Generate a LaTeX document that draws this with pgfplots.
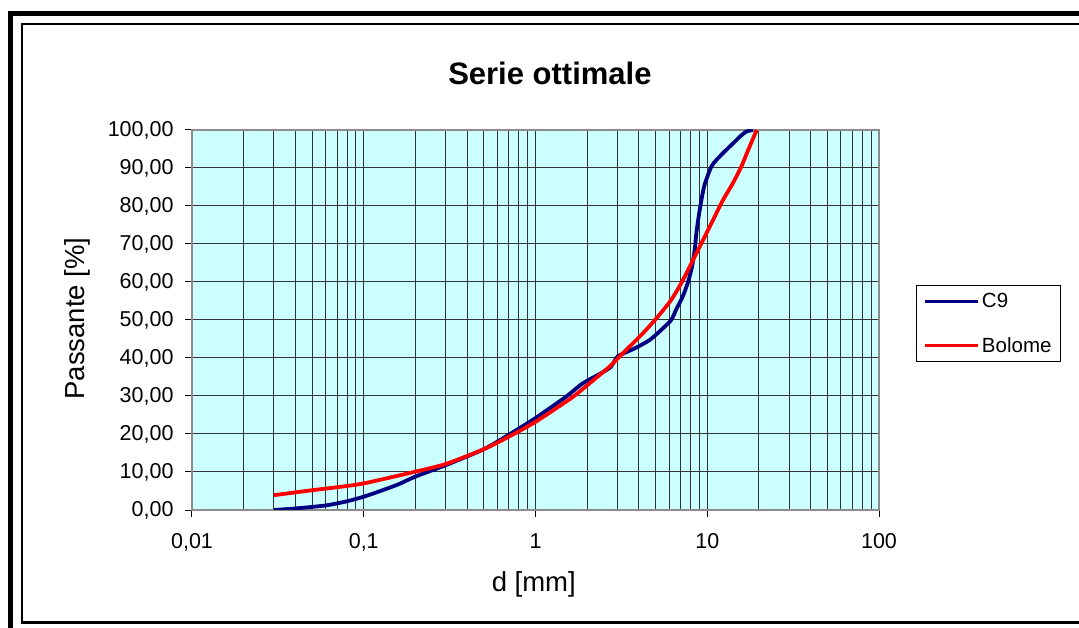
\documentclass[border=0pt]{standalone}
\usepackage{pgfplots}
\pgfplotsset{compat=1.18}
\usepackage{pgfplotstable}
\usepackage{fontspec}
\setmainfont{Liberation Sans}
\definecolor{bgc}{HTML}{CCFFFF}
\definecolor{navyc}{HTML}{000080}
\definecolor{redc}{HTML}{FF0000}

\pgfplotstableread{
d val
0.03 0.0
0.04 0.4
0.06 1.2
0.08 2.3
0.1 3.5
0.125 5.0
0.16 6.8
0.2 8.8
0.3 11.8
0.5 16.0
0.7 19.8
1.0 24.2
1.505 29.8
1.88 33.3
2.41 36.0
2.75 37.7
3.01 40.4
3.77 42.5
4.61 44.7
5.4 47.4
6.17 50.0
6.6 52.8
7.22 56.3
7.73 60.0
8.15 64.0
8.45 68.4
8.64 72.8
8.91 77.2
9.25 81.6
9.58 85.1
10.01 87.7
10.57 90.4
11.3 92.1
12.6 94.3
14.15 96.5
15.45 98.2
16.9 99.6
18.5 100.0
}\dataCnine

\pgfplotstableread{
d val
0.03 3.9
0.05 5.2
0.07 6.0
0.1 7.0
0.2 10.1
0.3 12.1
0.5 16.0
0.7 19.3
1.0 23.2
1.61 29.4
2.06 33.3
2.69 37.7
3.37 42.1
4.22 46.5
5.16 50.9
6.17 55.3
7.06 59.7
7.9 64.0
8.83 68.4
9.88 72.8
11.05 77.2
12.36 81.6
14.1 86.0
15.8 90.4
17.3 94.7
19.4 100.0
}\dataBolome

\begin{document}
\begin{tikzpicture}
\useasboundingbox (0,0) rectangle (1079bp,628bp);
% outer frame
\draw[line width=5bp, line join=miter] (10.8bp,0bp) -- (10.8bp,614.5bp) -- (1079bp,614.5bp);
\draw[line width=2.3bp, line join=miter] (1079bp,5.5bp) -- (22.2bp,5.5bp) -- (22.2bp,604.2bp) -- (1079bp,604.2bp);
\begin{axis}[
  at={(192bp,118bp)}, anchor=south west,
  scale only axis, width=687bp, height=380bp,
  xmode=log, xmin=0.01, xmax=100, ymin=0, ymax=100,
  axis background/.style={fill=bgc},
  xtick={0.01,0.1,1,10,100},
  xticklabels={{0,01},{0,1},1,10,100},
  ytick={0,10,...,100},
  /pgf/number format/fixed, /pgf/number format/fixed zerofill, /pgf/number format/precision=2,
  /pgf/number format/use comma, /pgf/number format/assume math mode=true,
  yticklabel style={xshift=-8bp},
  xticklabel style={yshift=-13bp},
  tick label style={font=\fontsize{21.5bp}{25bp}\selectfont},
  tick align=outside, major tick length=7bp, minor tick length=0pt,
  tick style={black, line width=1bp},
  xtick pos=bottom, ytick pos=left,
  xmajorgrids, xminorgrids, ymajorgrids,
  major grid style={black!80, line width=1bp},
  minor grid style={black!80, line width=1bp},
  axis line style={gray!90, line width=1.5bp},
  title={\textbf{Serie ottimale}},
  title style={at={(axis description cs:0.521,1.1455)}, yshift=-5bp, anchor=center, font=\fontsize{31bp}{36bp}\selectfont},
  xlabel={d [mm]},
  xlabel style={at={(axis description cs:0.4975,-0.195)}, anchor=center, font=\fontsize{27.5bp}{32bp}\selectfont},
  ylabel={Passante [\%]},
  ylabel style={at={(axis description cs:-0.1667,0.504)}, anchor=center, font=\fontsize{27.5bp}{32bp}\selectfont},
  legend style={at={(axis description cs:1.2649,0.592)}, anchor=north east, draw=black, line width=1bp,
    font=\fontsize{20.5bp}{24bp}\selectfont, inner xsep=7bp, inner ysep=6bp, row sep=24bp,
    nodes={inner xsep=2bp},
    /tikz/every even column/.append style={column sep=0bp}},
  legend cell align=left,
  legend image code/.code={\draw[#1] (0bp,0bp) -- (53bp,0bp);},
]
\addplot[navyc, line width=3.8bp, smooth, tension=0.4] table[x=d, y=val] {\dataCnine};
\addlegendentry{C9}
\addplot[redc, line width=3.8bp, smooth, tension=0.4] table[x=d, y=val] {\dataBolome};
\addlegendentry{Bolome}
\end{axis}
\end{tikzpicture}
\end{document}
